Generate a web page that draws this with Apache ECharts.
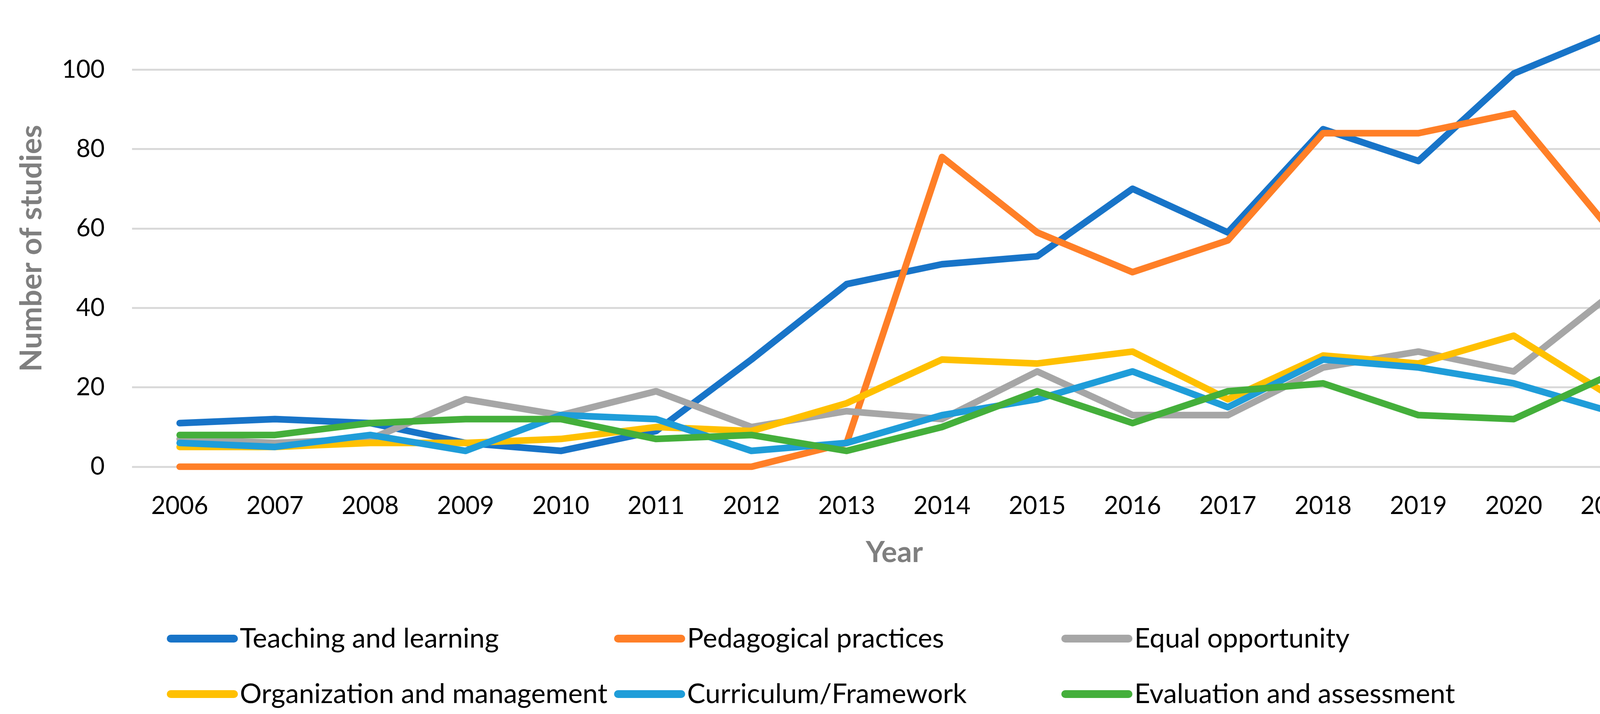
<!DOCTYPE html>
<html>
<head>
<meta charset="utf-8">
<style>
  html, body { margin: 0; padding: 0; background: #ffffff; overflow: hidden; }
  #chart { width: 4272px; height: 1828px; }
</style>
<script src="https://cdn.jsdelivr.net/npm/echarts@6/dist/echarts.min.js"></script>
</head>
<body>
<div id="chart"></div>
<script>
const years = ['2006','2007','2008','2009','2010','2011','2012','2013','2014','2015','2016','2017','2018','2019','2020','2021'];
const teachingLearning   = [11, 12, 11, 6, 4, 9, 27, 46, 51, 53, 70, 59, 85, 77, 99, 109];
const pedagogicalPract   = [0, 0, 0, 0, 0, 0, 0, 6, 78, 59, 49, 57, 84, 84, 89, 60];
const equalOpportunity   = [7, 6, 7, 17, 13, 19, 10, 14, 12, 24, 13, 13, 25, 29, 24, 43];
const organizationMgmt   = [5, 5, 6, 6, 7, 10, 9, 16, 27, 26, 29, 17, 28, 26, 33, 18];
const curriculumFramework = [6, 5, 8, 4, 13, 12, 4, 6, 13, 17, 24, 15, 27, 25, 21, 14];
const evaluationAssess   = [8, 8, 11, 12, 12, 7, 8, 4, 10, 19, 11, 19, 21, 13, 12, 23];
const yTicks = [0, 20, 40, 60, 80, 100];

const seriesDefs = [
  { name: 'Teaching and learning', data: teachingLearning, color: '#1874C8' },
  { name: 'Pedagogical practices', data: pedagogicalPract, color: '#FF7F27' },
  { name: 'Equal opportunity', data: equalOpportunity, color: '#A6A6A6' },
  { name: 'Organization and management', data: organizationMgmt, color: '#FFC000' },
  { name: 'Curriculum/Framework', data: curriculumFramework, color: '#1F9DD9' },
  { name: 'Evaluation and assessment', data: evaluationAssess, color: '#44AF3B' }
];

const FONT = 'Lato, "Open Sans", "Noto Sans", sans-serif';
const chart = echarts.init(document.getElementById('chart'), null, { renderer: 'canvas' });

const option = {
  backgroundColor: '#ffffff',
  animation: false,
  grid: { left: 338, right: 31, top: 76.6, bottom: 633, containLabel: false },
  xAxis: {
    type: 'category',
    data: years,
    boundaryGap: true,
    axisLine: { show: false },
    axisTick: { show: false },
    axisLabel: { color: '#000000', fontFamily: FONT, fontSize: 63, margin: 69 },
    name: 'Year',
    nameLocation: 'middle',
    nameGap: 182,
    nameTextStyle: { color: '#7F7F7F', fontFamily: FONT, fontSize: 75, fontWeight: 'bold' }
  },
  yAxis: {
    type: 'value',
    min: 0,
    max: 110,
    interval: 20,
    axisLine: { show: false },
    axisTick: { show: false },
    axisLabel: {
      color: '#000000', fontFamily: FONT, fontSize: 63, margin: 70, showMaxLabel: false,
      formatter: v => (yTicks.indexOf(v) >= 0 ? String(v) : '')
    },
    splitLine: {
      show: true,
      showMaxLine: false,
      lineStyle: { color: ['#D9D9D9','#D9D9D9','#D9D9D9','#D9D9D9','#D9D9D9','#D9D9D9','rgba(0,0,0,0)'], width: 5 }
    },
    name: 'Number of studies',
    nameLocation: 'middle',
    nameGap: 218,
    nameRotate: 90,
    nameTextStyle: { color: '#7F7F7F', fontFamily: FONT, fontSize: 77, fontWeight: 'bold' }
  },
  legend: {
    left: 427,
    top: 1564,
    width: 3500,
    orient: 'horizontal',
    padding: 0,
    itemGap: 0,
    itemWidth: 182,
    itemHeight: 20,
    icon: 'path://M10,0 L172,0 A10,10 0 0,1 172,20 L10,20 A10,10 0 0,1 10,0 Z',
    data: seriesDefs.map(s => ({ name: s.name, itemStyle: { color: s.color } })),
    formatter: name => '{t|' + name + '}',
    textStyle: {
      color: '#000000', fontFamily: FONT, fontSize: 70, lineHeight: 142,
      rich: { t: { width: 958, fontFamily: FONT, fontSize: 70, lineHeight: 142, color: '#000000' } }
    }
  },
  series: seriesDefs.map(s => ({
    name: s.name,
    type: 'line',
    data: s.data,
    symbol: 'none',
    showSymbol: false,
    smooth: false,
    color: s.color,
    lineStyle: { color: s.color, width: 17, cap: 'round', join: 'round' },
    emphasis: { disabled: true }
  }))
};

chart.setOption(option);
</script>
</body>
</html>
